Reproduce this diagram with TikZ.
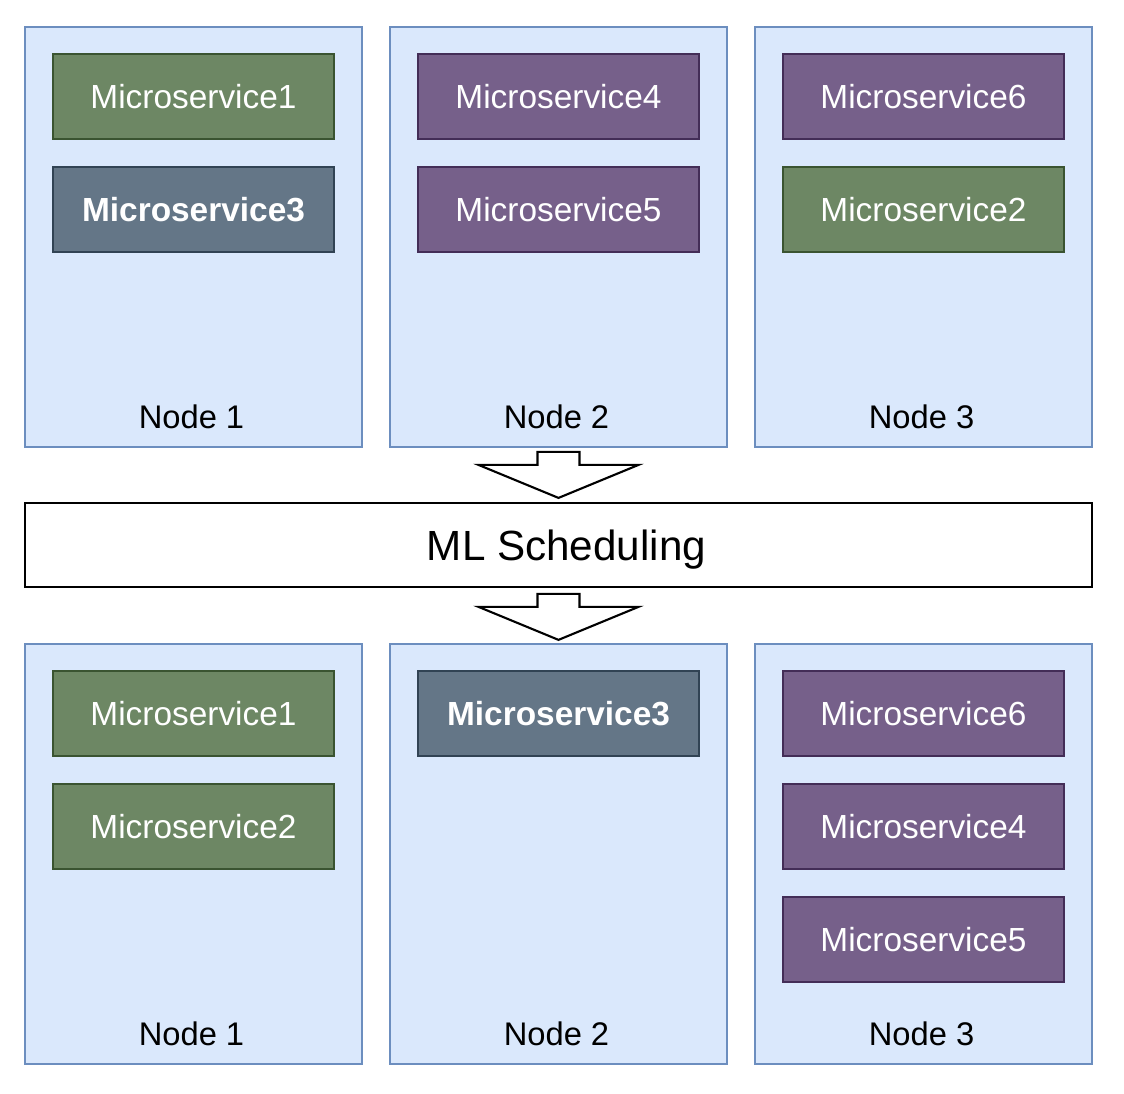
\documentclass[tikz,border=0pt]{standalone}
\usepackage{fontspec}
\setmainfont{Liberation Sans}
\usetikzlibrary{calc,positioning}
\definecolor{hostfill}{HTML}{DAE8FC}\definecolor{hostline}{HTML}{6C8EBF}
\definecolor{gfill}{HTML}{6D8764}\definecolor{gline}{HTML}{3A5431}
\definecolor{pfill}{HTML}{76608A}\definecolor{pline}{HTML}{432D57}
\definecolor{sfill}{HTML}{647687}\definecolor{sline}{HTML}{314354}
\newcommand{\msfont}{\fontsize{9.5}{11}\selectfont}
\tikzset{host/.style={draw=hostline,fill=hostfill,line width=.6pt,minimum width=3.37cm,minimum height=4.2cm,inner sep=0pt,outer sep=0pt},
hostlabel/.style={font=\fontsize{9.3}{11}\selectfont,anchor=center},
svc/.style={line width=.6pt,minimum width=2.81cm,minimum height=.85cm,inner sep=0pt,outer sep=0pt,text=white,font=\msfont},
svcgreen/.style={svc,draw=gline,fill=gfill},svcpurple/.style={svc,draw=pline,fill=pfill},svcgrey/.style={svc,draw=sline,fill=sfill},
mlbox/.style={draw,line width=.6pt,minimum width=10.67cm,minimum height=.84cm,inner sep=0pt},
mltext/.style={font=\fontsize{12}{14}\selectfont,inner sep=0pt},
barrow/.style={draw,fill=white,line width=.6pt,line join=miter}}

\begin{document}
\begin{tikzpicture}[x=0.01cm,y=0.01cm]
\useasboundingbox (0,0) rectangle (1124,1094);
\foreach \n/\x in {1/193.5,2/558.5,3/923.5}{
\node[host] (t\n) at (\x,857){};\node[hostlabel] (tl\n) at ($(t\n.south)+(-2,30)$){Node \n};
\node[host] (b\n) at (\x,240){};\node[hostlabel] (bl\n) at ($(b\n.south)+(-2,30)$){Node \n};}
% before scheduling
\node[svcgreen,below=2.7mm of t1.north] (t1a) {Microservice1};
\node[svcgrey,below=2.8mm of t1a] (t1b) {\textbf{Microservice3}};
\node[svcpurple,below=2.7mm of t2.north] (t2a) {Microservice4};
\node[svcpurple,below=2.8mm of t2a] (t2b) {Microservice5};
\node[svcpurple,below=2.7mm of t3.north] (t3a) {Microservice6};
\node[svcgreen,below=2.8mm of t3a] (t3b) {Microservice2};
\node[mlbox] (ml) at (558.5,549) {};
\node[mltext] (mlt) at ($(ml.center)+(8,-5)$) {ML Scheduling};
% after scheduling
\node[svcgreen,below=2.7mm of b1.north] (b1a) {Microservice1};
\node[svcgreen,below=2.8mm of b1a] (b1b) {Microservice2};
\node[svcgrey,below=2.7mm of b2.north] (b2a) {\textbf{Microservice3}};
\node[svcpurple,below=2.7mm of b3.north] (b3a) {Microservice6};
\node[svcpurple,below=2.8mm of b3a] (b3b) {Microservice4};
\node[svcpurple,below=2.8mm of b3b] (b3c) {Microservice5};
\foreach \t in {ml.north,b2.north}
\draw[barrow] ($(\t)+(0,4)$) -- ++(-80,33) -- ++(59,0) -- ++(0,13) -- ++(42,0) -- ++(0,-13) -- ++(59,0) -- cycle;
\end{tikzpicture}
\end{document}
